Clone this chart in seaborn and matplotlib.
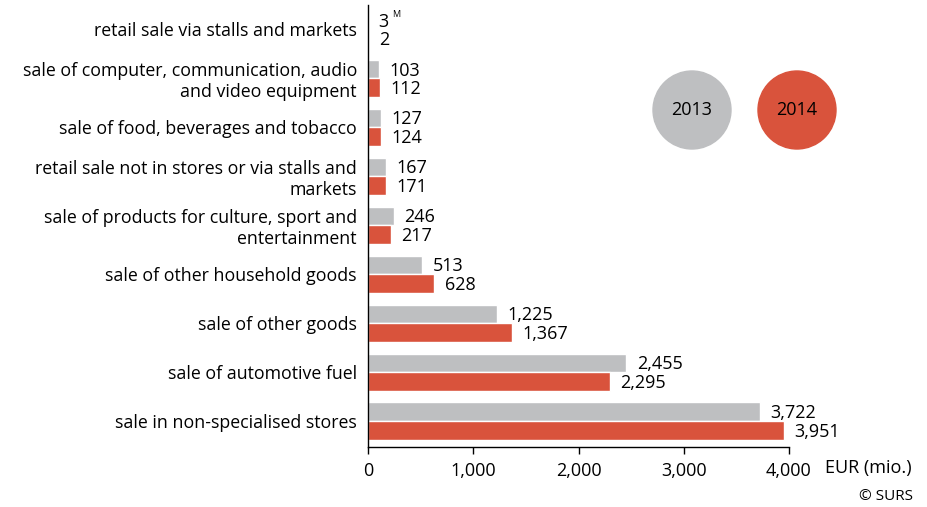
import matplotlib
matplotlib.use("Agg")
import matplotlib.pyplot as plt
from matplotlib.patches import Ellipse
import seaborn as sns
import pandas as pd

# Datos (EUR mio.)
categories = [
    "retail sale via stalls and markets",
    "sale of computer, communication, audio\nand video equipment",
    "sale of food, beverages and tobacco",
    "retail sale not in stores or via stalls and\nmarkets",
    "sale of products for culture, sport and\nentertainment",
    "sale of other household goods",
    "sale of other goods",
    "sale of automotive fuel",
    "sale in non-specialised stores",
]
values_2013 = [3, 103, 127, 167, 246, 513, 1225, 2455, 3722]
values_2014 = [2, 112, 124, 171, 217, 628, 1367, 2295, 3951]
years = ["2013", "2014"]
xticks = [0, 1000, 2000, 3000, 4000]

gray = "#BEBFC1"
red = "#D9533C"

df = pd.DataFrame({
    "category": categories * 2,
    "value": values_2013 + values_2014,
    "year": [years[0]] * len(categories) + [years[1]] * len(categories),
})

sns.set_style("white")
plt.rcParams["font.family"] = ["Open Sans", "DejaVu Sans"]
plt.rcParams["font.size"] = 12.5
plt.rcParams["text.color"] = "black"
plt.rcParams["xtick.color"] = "black"
plt.rcParams["ytick.color"] = "black"

fig = plt.figure(figsize=(9.27, 5.07), dpi=100)
ax = fig.add_axes([368 / 927, 1 - 447 / 507, (789 - 368) / 927, (447 - 5) / 507])

sns.barplot(data=df, x="value", y="category", hue="year", order=categories,
            hue_order=years, palette=[gray, red], width=0.76, ax=ax,
            legend=False, saturation=1, orient="h")

# Etiquetas de valores
for cont in ax.containers:
    for bar in cont:
        w = bar.get_width()
        yc = bar.get_y() + bar.get_height() / 2
        ax.annotate(f"{int(w):,}", (w, yc), xytext=(7.5, -1), textcoords="offset points",
                    ha="left", va="center", fontsize=13, color="black")

# superindice M en el primer valor
first = ax.containers[0][0]
ax.annotate("M", (first.get_width(), first.get_y() + first.get_height() / 2),
            xytext=(17, 4), textcoords="offset points", ha="left", va="center",
            fontsize=6.5, color="black")

ax.set_xlim(0, 4000)
ax.set_ylim(len(categories) - 0.47, -0.5)
ax.set_xticks(xticks)
ax.set_xticklabels([f"{t:,}" for t in xticks], fontsize=13)
ax.set_xlabel("")
ax.set_ylabel("")
ax.tick_params(axis="y", length=0, labelsize=12.8, pad=8, labelcolor="black")
ax.tick_params(axis="x", length=5, width=1, direction="out", bottom=True, pad=6,
               color="black", labelcolor="black")
for lab in ax.get_yticklabels():
    lab.set_horizontalalignment("right")
    lab.set_multialignment("right")

sns.despine(ax=ax, top=True, right=True)
for s in ["left", "bottom"]:
    ax.spines[s].set_color("black")
    ax.spines[s].set_linewidth(1)

fig.text(825 / 927, 1 - 468 / 507, "EUR (mio.)", ha="left", va="center", fontsize=13)
fig.text(913 / 927, 1 - 497 / 507, "© SURS", ha="right", va="center", fontsize=11)

# Leyenda en circulos
for cx, col, lab in [(692, gray, years[0]), (797, red, years[1])]:
    fig.add_artist(Ellipse((cx / 927, 1 - 110 / 507), 78 / 927, 78 / 507,
                           transform=fig.transFigure, color=col))
    fig.text(cx / 927, 1 - 110 / 507, lab, ha="center", va="center", fontsize=13)

plt.savefig("out.png", dpi=100)
plt.close()
